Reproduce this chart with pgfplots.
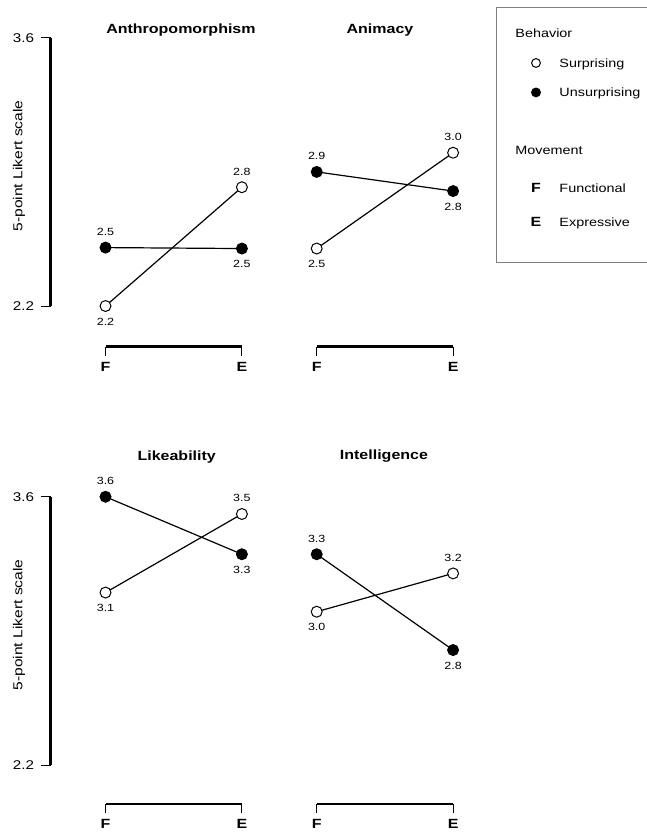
\documentclass[border=0pt]{standalone}
\usepackage{fontspec}
\setmainfont{Liberation Sans}[FakeStretch=1.2]
\usepackage{pgfplots}
\pgfplotsset{compat=1.18}

\newcommand\fsTitle{\fontsize{10pt}{12pt}\selectfont\bfseries}
\newcommand\fsTick{\fontsize{9.5pt}{11pt}\selectfont}
\newcommand\fsLab{\fontsize{7.8pt}{9pt}\selectfont}
\newcommand\fsLeg{\fontsize{9pt}{11pt}\selectfont}
\newcommand\fsY{\fontsize{9.75pt}{11pt}\selectfont}
\newcommand\fsFE{\fontsize{10pt}{12pt}\selectfont\bfseries}

\pgfplotsset{
  panel/.style={
    x=102.3pt, y=143.7pt,
    xmin=-0.402, xmax=1.25, ymax=3.6,
    anchor=south west, clip=false,
    separate axis lines, axis x line*=bottom, axis y line*=left,
    axis line style={draw=none},
    xtick={0,1}, xticklabels={F,E},
    xticklabel style={font=\fsFE, yshift=-1pt},
    tick align=outside, major tick length=7pt,
    tick style={black, line width=0.75pt},
    /pgf/number format/assume math mode=true,
    yticklabel style={font=\fsTick, xshift=-2pt},
    yticklabel={\pgfmathprintnumber[fixed,fixed zerofill,precision=1]{\tick}},
  },
  leftpanel/.style={panel, ytick={2.2,3.6}},
  rightpanel/.style={panel, ytick=\empty},
  surp/.style={black, line width=0.9pt, mark=*, mark size=4.1pt,
    mark options={fill=white, line width=0.75pt},
    point meta=y,
    nodes near coords={\pgfmathprintnumber[fixed,fixed zerofill,precision=1]{\pgfplotspointmeta}},
    visualization depends on={value \thisrow{pos}\as\labelpos},
    every node near coord/.append style={anchor=\labelpos, font=\fsLab,
      inner xsep=0pt, inner ysep=8.6pt, black}},
  unsurp/.style={surp, mark options={fill=black, line width=0.75pt}},
}

\begin{document}
\begin{tikzpicture}
\path[use as bounding box] (0,0) rectangle (484.5pt,625.5pt);

% ---------------- Anthropomorphism
\begin{axis}[leftpanel, at={(38.0pt,365.6pt)}, ymin=1.9886]
\draw[line width=2pt] (axis cs:0,1.9886) -- (axis cs:1,1.9886);
\draw[line width=2pt] (axis cs:-0.402,2.2) -- (axis cs:-0.402,3.6);
\node[anchor=base, font=\fsTitle] at (axis cs:0.553,3.623) {Anthropomorphism};
\node[rotate=90, font=\fsY] at (axis cs:-0.634,2.931) {5-point Likert scale};
\addplot[surp] table[row sep=\\] {x y pos\\ 0 2.20 north\\ 1 2.82 south\\};
\addplot[unsurp] table[row sep=\\] {x y pos\\ 0 2.505 south\\ 1 2.50 north\\};
\end{axis}

% ---------------- Animacy
\begin{axis}[rightpanel, at={(196.4pt,365.6pt)}, ymin=1.9886,
  legend cell align=left,
  legend style={at={(1.0377,1.0988)}, anchor=north west, draw=black!50,
    line width=0.75pt, fill=white, inner xsep=22.35pt, inner ysep=13.3pt,
    row sep=10.1pt, column sep=10.1pt, font=\fsLeg,
    nodes={inner sep=0pt, text depth=0pt}}]
\draw[line width=2pt] (axis cs:0,1.9886) -- (axis cs:1,1.9886);
\node[anchor=base, font=\fsTitle] at (axis cs:0.464,3.623) {Animacy};
\addplot[surp, forget plot] table[row sep=\\] {x y pos\\ 0 2.50 north\\ 1 3.00 south\\};
\addplot[unsurp, forget plot] table[row sep=\\] {x y pos\\ 0 2.90 south\\ 1 2.80 north\\};
\addlegendimage{legend image code/.code={\path[draw=none,fill=none] (-7.5pt,-6pt) rectangle (7.5pt,6pt);}}
\addlegendentry{\hspace*{-33pt}Behavior}
\addlegendimage{legend image code/.code={\path[draw=none,fill=none] (-7.5pt,-6pt) rectangle (7.5pt,6pt);
  \draw[black, line width=0.75pt, fill=white] (0,0) circle (3.3pt);}}
\addlegendentry{Surprising}
\addlegendimage{legend image code/.code={\path[draw=none,fill=none] (-7.5pt,-6pt) rectangle (7.5pt,6pt);
  \draw[black, line width=0.75pt, fill=black] (0,0) circle (3.3pt);}}
\addlegendentry{Unsurprising}
\addlegendimage{legend image code/.code={\path[draw=none,fill=none] (-7.5pt,-4.6pt) rectangle (7.5pt,4.6pt);}}
\addlegendentry{}
\addlegendimage{legend image code/.code={\path[draw=none,fill=none] (-7.5pt,-8.4pt) rectangle (7.5pt,8.4pt);}}
\addlegendentry{\hspace*{-33pt}Movement}
\addlegendimage{legend image code/.code={\path[draw=none,fill=none] (-7.5pt,-9.3pt) rectangle (7.5pt,9.3pt);
  \node[draw=none, anchor=center, font=\fsFE, inner sep=0pt, text depth=0pt] at (0,0) {F};}}
\addlegendentry{Functional}
\addlegendimage{legend image code/.code={\path[draw=none,fill=none] (-7.5pt,-17pt) rectangle (7.5pt,6pt);
  \node[draw=none, anchor=center, font=\fsFE, inner sep=0pt, text depth=0pt] at (0,0) {E};}}
\addlegendentry{Expressive}
\end{axis}

% ---------------- Likeability
\begin{axis}[leftpanel, at={(38.0pt,22.5pt)}, ymin=1.9965]
\draw[line width=2pt] (axis cs:0,1.9965) -- (axis cs:1,1.9965);
\draw[line width=2pt] (axis cs:-0.402,2.2) -- (axis cs:-0.402,3.6);
\node[anchor=base, font=\fsTitle] at (axis cs:0.522,3.788) {Likeability};
\node[rotate=90, font=\fsY] at (axis cs:-0.634,2.931) {5-point Likert scale};
\addplot[surp] table[row sep=\\] {x y pos\\ 0 3.10 north\\ 1 3.51 south\\};
\addplot[unsurp] table[row sep=\\] {x y pos\\ 0 3.60 south\\ 1 3.30 north\\};
\end{axis}

% ---------------- Intelligence
\begin{axis}[rightpanel, at={(196.4pt,22.5pt)}, ymin=1.9965]
\draw[line width=2pt] (axis cs:0,1.9965) -- (axis cs:1,1.9965);
\node[anchor=base, font=\fsTitle] at (axis cs:0.493,3.795) {Intelligence};
\addplot[surp] table[row sep=\\] {x y pos\\ 0 3.00 north\\ 1 3.20 south\\};
\addplot[unsurp] table[row sep=\\] {x y pos\\ 0 3.30 south\\ 1 2.80 north\\};
\end{axis}
\end{tikzpicture}
\end{document}
